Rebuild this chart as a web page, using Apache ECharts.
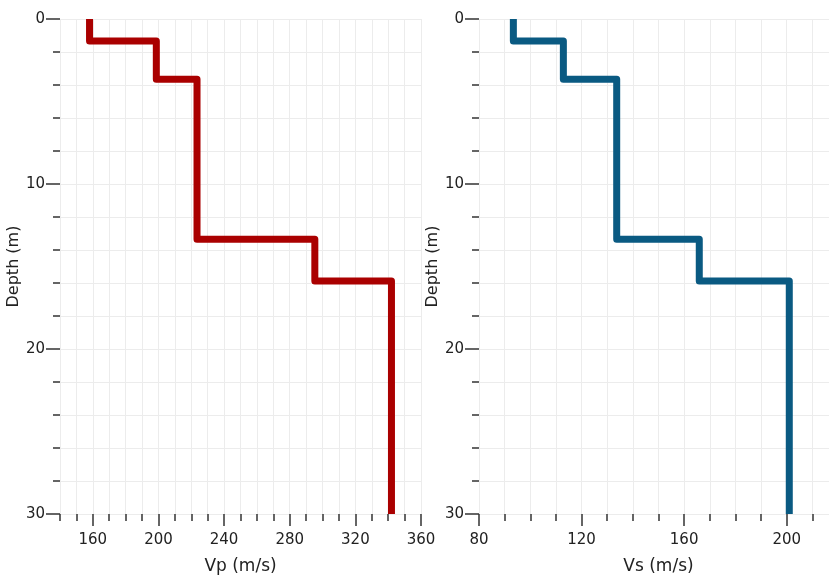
<!DOCTYPE html>
<html>
<head>
<meta charset="utf-8">
<script src="https://cdn.jsdelivr.net/npm/echarts@6/dist/echarts.min.js"></script>
<style>
html,body{margin:0;padding:0;background:#fff;}
#c{width:829px;height:578px;}
</style>
</head>
<body>
<div id="c"></div>
<script>
// Layer boundaries (depth, m) and layer velocities (m/s)
var layerDepths = [0, 1.33, 3.65, 13.35, 15.88, 30];
var vpValues = [158, 198.7, 223.5, 295.3, 342];
var vsValues = [93.4, 112.9, 133.7, 165.9, 201];
var vpTickLabels = [160, 200, 240, 280, 320, 360];
var vsTickLabels = [80, 120, 160, 200];
var depthTickLabels = [0, 10, 20, 30];

function stepPoints(vals) {
  var pts = [];
  for (var i = 0; i < vals.length; i++) {
    pts.push([vals[i], layerDepths[i]]);
    pts.push([vals[i], layerDepths[i + 1]]);
  }
  return pts;
}

var FONT = 'DejaVu Sans';
var gridColor = '#ececec';
var tickColor = '#333';
var textColor = '#222';

function minorX(grid, min, max, name) {
  return {
    type: 'value', gridIndex: grid, min: min, max: max, interval: 10,
    position: 'bottom',
    axisLine: {show: false, onZero: false},
    axisTick: {show: true, length: 7, lineStyle: {color: tickColor, width: 1.5}},
    axisLabel: {show: false},
    splitLine: {show: true, lineStyle: {color: gridColor, width: 1}},
    name: name, nameLocation: 'middle', nameGap: 44,
    nameTextStyle: {fontFamily: FONT, fontSize: 17, color: textColor}
  };
}
function majorX(grid, min, max, ticks) {
  return {
    type: 'value', gridIndex: grid, min: min, max: max,
    position: 'bottom',
    axisLine: {show: false, onZero: false},
    axisTick: {show: true, length: 12, customValues: ticks, lineStyle: {color: tickColor, width: 1.5}},
    axisLabel: {show: true, customValues: ticks, margin: 19, fontFamily: FONT, fontSize: 15, color: textColor},
    splitLine: {show: false}
  };
}
function depthY(grid) {
  return {
    type: 'value', gridIndex: grid, inverse: true, min: 0, max: 30, interval: 10,
    position: 'left',
    axisLine: {show: false, onZero: false},
    axisTick: {show: true, length: 14, lineStyle: {color: tickColor, width: 1.5}},
    minorTick: {show: true, splitNumber: 5, length: 7, lineStyle: {color: tickColor, width: 1.5}},
    axisLabel: {show: true, customValues: depthTickLabels, margin: 15, fontFamily: FONT, fontSize: 15, color: textColor},
    splitLine: {show: true, lineStyle: {color: gridColor, width: 1}},
    minorSplitLine: {show: true, lineStyle: {color: gridColor, width: 1}},
    name: 'Depth (m)', nameLocation: 'middle', nameGap: 37,
    nameTextStyle: {fontFamily: FONT, fontSize: 16, color: textColor}
  };
}

var chart = echarts.init(document.getElementById('c'), null, {renderer: 'canvas'});
chart.setOption({
  animation: false,
  backgroundColor: '#fff',
  grid: [
    {left: 60, top: 19, width: 361, height: 495, containLabel: false, outerBoundsMode: 'none'},
    {left: 479, top: 19, width: 359, height: 495, containLabel: false, outerBoundsMode: 'none'}
  ],
  xAxis: [
    minorX(0, 140, 360, 'Vp (m/s)'),
    majorX(0, 140, 360, vpTickLabels),
    minorX(1, 80, 220, 'Vs (m/s)'),
    majorX(1, 80, 220, vsTickLabels)
  ],
  yAxis: [depthY(0), depthY(1)],
  series: [
    {
      type: 'line', xAxisIndex: 0, yAxisIndex: 0,
      data: stepPoints(vpValues), showSymbol: false, symbol: 'none',
      lineStyle: {color: '#aa0000', width: 7, cap: 'butt', join: 'round'},
      clip: false
    },
    {
      type: 'line', xAxisIndex: 2, yAxisIndex: 1,
      data: stepPoints(vsValues), showSymbol: false, symbol: 'none',
      lineStyle: {color: '#0a5a82', width: 7, cap: 'butt', join: 'round'},
      clip: false
    }
  ]
});
</script>
</body>
</html>
